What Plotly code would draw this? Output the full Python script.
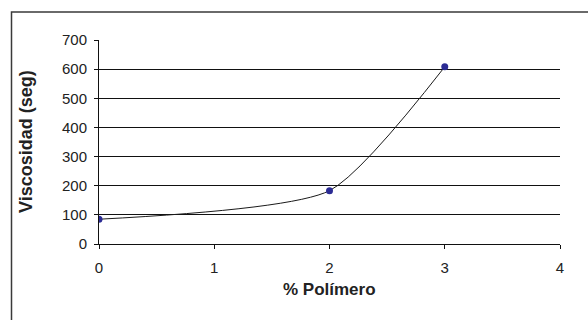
import plotly.graph_objects as go

# Viscosity measured against polymer percentage
polimero = [0, 2, 3]
viscosidad = [85, 183, 608]

x_ticks = [0, 1, 2, 3, 4]
y_ticks = [0, 100, 200, 300, 400, 500, 600, 700]

FONT = "Liberation Sans, Arial, sans-serif"

fig = go.Figure()

# smoothed connecting curve
fig.add_trace(go.Scatter(
    x=polimero, y=viscosidad,
    mode="lines",
    line=dict(color="#1a1a1a", width=1, shape="spline", smoothing=0.6),
    hoverinfo="skip",
    showlegend=False,
))

# measured points
fig.add_trace(go.Scatter(
    x=polimero, y=viscosidad,
    mode="markers",
    marker=dict(color="#2b2b94", size=7),
    showlegend=False,
))

W, H = 588, 320
L, R, T, B = 99, 28, 40, 76
pw, ph = W - L - R, H - T - B


def px(xp):
    return (xp - L) / pw


def py(yp):
    return (H - B - yp) / ph


fig.update_layout(
    width=W, height=H,
    margin=dict(l=L, r=R, t=T, b=B),
    paper_bgcolor="white",
    plot_bgcolor="white",
    font=dict(family=FONT, size=15, color="#222222"),
    xaxis=dict(
        range=[0, 4],
        tickvals=x_ticks,
        ticktext=[str(v) for v in x_ticks],
        showgrid=False,
        zeroline=False,
        showline=True, linecolor="#111111", linewidth=1,
        ticks="outside", ticklen=4, tickcolor="#111111",
        ticklabelstandoff=6,
        tickfont=dict(size=15, family=FONT, color="#222222"),
    ),
    yaxis=dict(
        range=[0, 700],
        tickvals=y_ticks,
        ticktext=[str(v) for v in y_ticks],
        showgrid=True, gridcolor="#111111", gridwidth=1,
        zeroline=False,
        showline=True, linecolor="#111111", linewidth=1,
        ticks="outside", ticklen=4, tickcolor="#111111",
        ticklabelstandoff=4,
        tickfont=dict(size=15, family=FONT, color="#222222"),
    ),
    shapes=[
        # chart frame, running past the right and bottom edges
        dict(type="rect", xref="paper", yref="paper",
             x0=px(11.5), x1=px(W + 20), y0=py(H + 20), y1=py(12),
             line=dict(color="#3a3a3a", width=1.5), fillcolor="rgba(0,0,0,0)",
             layer="below"),
    ],
    annotations=[
        dict(text="<b>% Polímero</b>", xref="paper", yref="paper",
             x=px(329.5), y=py(289), xanchor="center", yanchor="middle",
             showarrow=False, font=dict(size=17, family=FONT, color="#222222")),
        dict(text="<b>Viscosidad (seg)</b>", xref="paper", yref="paper",
             x=px(26), y=py(142), xanchor="center", yanchor="middle",
             textangle=-90, showarrow=False,
             font=dict(size=18, family=FONT, color="#222222")),
    ],
)

fig.write_html("out.html")
